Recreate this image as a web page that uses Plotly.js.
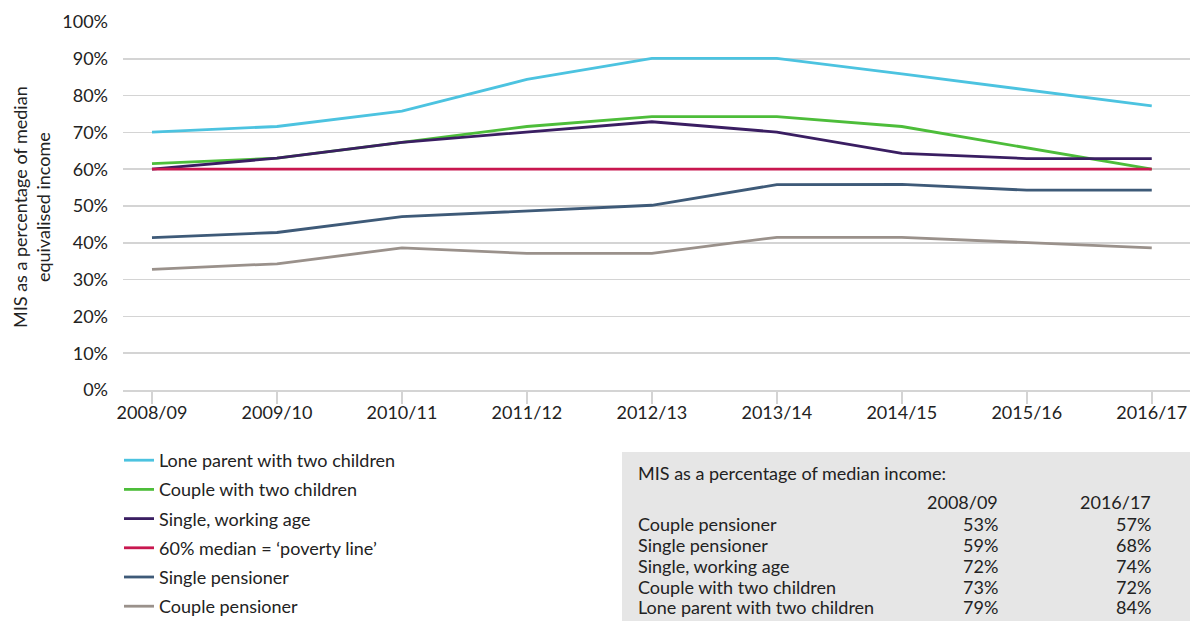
<!DOCTYPE html>
<html>
<head>
<meta charset="utf-8">
<script src="https://cdn.plot.ly/plotly-3.0.1.min.js"></script>
<style>html,body{margin:0;padding:0;background:#fff;}#chart{width:1190px;height:621px;}</style>
</head>
<body>
<div id="chart"></div>
<script>
// ---- data ----
var years = ['2008/09','2009/10','2010/11','2011/12','2012/13','2013/14','2014/15','2015/16','2016/17'];
var seriesNames = ['Lone parent with two children','Couple with two children','Single, working age',"60% median = \u2018poverty line\u2019",'Single pensioner','Couple pensioner'];
var loneParent      = [70.1, 71.6, 75.8, 84.4, 90.1, 90.1, 85.9, 81.5, 77.2];
var coupleChildren  = [61.5, 63.0, 67.3, 71.6, 74.3, 74.3, 71.6, 65.9, 60.0];
var singleWorking   = [60.0, 63.0, 67.3, 70.2, 72.9, 70.1, 64.3, 62.9, 62.9];
var povertyLine     = [60, 60, 60, 60, 60, 60, 60, 60, 60];
var singlePensioner = [41.4, 42.8, 47.1, 48.6, 50.2, 55.8, 55.9, 54.3, 54.3];
var couplePensioner = [32.8, 34.3, 38.6, 37.1, 37.1, 41.5, 41.5, 40.1, 38.6];
var seriesValues = [loneParent, coupleChildren, singleWorking, povertyLine, singlePensioner, couplePensioner];
var yTicks = [0,10,20,30,40,50,60,70,80,90,100];

var tableTitle = 'MIS as a percentage of median income:';
var tableCols = ['2008/09','2016/17'];
var tableRows = ['Couple pensioner','Single pensioner','Single, working age','Couple with two children','Lone parent with two children'];
var table0809 = ['53%','59%','72%','73%','79%'];
var table1617 = ['57%','68%','74%','72%','84%'];

// ---- styles ----
var colors = ['#4CC3E0','#4DBD3A','#3A1E62','#C8174F','#3E5A78','#9A918B'];
var FONT = 'Lato, "Open Sans", sans-serif';
var FS = 18;
var TXT = '#222';
var W = 1190, H = 621, ML = 123, MR = 0, MT = 22, MB = 231;
var PW = W - ML - MR, PH = H - MT - MB;
function px(x){ return (x - ML) / PW; }
function py(y){ return (H - MB - y) / PH; }

var traces = seriesValues.map(function(v, i){
  return {
    x: years.map(function(_, k){ return k; }),
    y: v, type: 'scatter', mode: 'lines', name: seriesNames[i],
    legendgroup: 'g' + i,
    line: {color: colors[i], width: 2.8},
    hoverinfo: 'skip'
  };
});

var annotations = [{
  xref: 'paper', yref: 'paper', x: px(31), y: py(207), xanchor: 'center', yanchor: 'middle',
  text: 'MIS as a percentage of median<br>equivalised income', textangle: -90, showarrow: false,
  font: {family: FONT, size: FS, color: TXT}
}];
function addText(t, x, y, anchor){
  annotations.push({xref:'paper', yref:'paper', x: px(x), y: py(y), xanchor: anchor, yanchor:'middle',
    text: t, showarrow:false, font:{family:FONT, size:FS, color:TXT}});
}
addText(tableTitle, 636, 473, 'left');
var colX = [1000, 1153];
tableCols.forEach(function(c, j){ addText(c, colX[j], 502, 'right'); });
var rowY = [524, 545, 566, 587, 607];
tableRows.forEach(function(r, i){
  addText(r, 636, rowY[i], 'left');
  addText(table0809[i], colX[0], rowY[i], 'right');
  addText(table1617[i], colX[1], rowY[i], 'right');
});

var layout = {
  width: W, height: H,
  margin: {l: ML, r: MR, t: MT, b: MB, pad: 0, autoexpand: false},
  paper_bgcolor: '#fff', plot_bgcolor: '#fff',
  font: {family: FONT, size: FS, color: TXT},
  showlegend: true,
  legend: {x: px(119), y: py(442), xanchor: 'left', yanchor: 'top', orientation: 'v',
    font: {family: FONT, size: FS, color: TXT}, tracegroupgap: 2.8, bgcolor: 'rgba(0,0,0,0)'},
  xaxis: {
    range: [-0.232, 8.306], tickmode: 'array', tickvals: years.map(function(_, k){ return k; }), ticktext: years,
    showgrid: false, zeroline: false, showline: true, linecolor: '#D4D4D4', linewidth: 1.5,
    ticks: 'outside', ticklen: 12, tickcolor: '#D4D4D4', tickwidth: 1.5, ticklabelstandoff: -6,
    tickfont: {family: FONT, size: FS, color: TXT}, fixedrange: true
  },
  yaxis: {
    range: [0, 100], tickmode: 'array', tickvals: yTicks, ticktext: yTicks.map(function(t){ return t + '%'; }),
    showgrid: true, gridcolor: '#D4D4D4', gridwidth: 1.5, zeroline: false, showline: false, ticks: '',
    ticklabelstandoff: 14,
    tickfont: {family: FONT, size: FS, color: TXT}, fixedrange: true
  },
  shapes: [{type: 'rect', xref: 'paper', yref: 'paper', x0: px(622), x1: 1.0, y0: py(621), y1: py(452),
    fillcolor: '#E6E6E6', line: {width: 0}, layer: 'below'}],
  annotations: annotations
};

Plotly.newPlot('chart', traces, layout, {displayModeBar: false, staticPlot: true});
</script>
</body>
</html>
